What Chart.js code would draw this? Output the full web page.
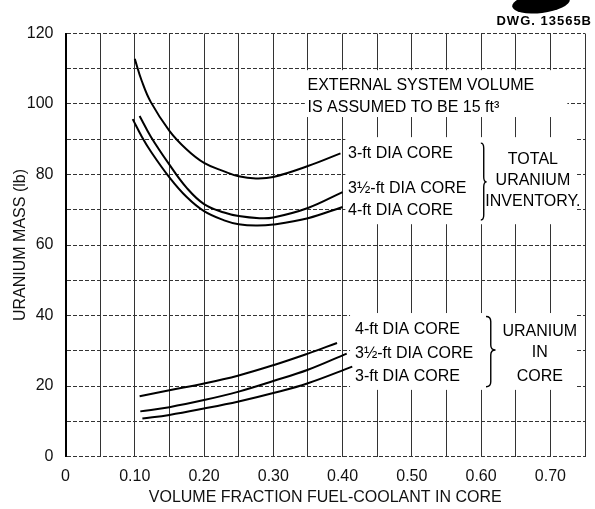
<!DOCTYPE html>
<html>
<head>
<meta charset="utf-8">
<script src="https://cdn.jsdelivr.net/npm/chart.js@4.4.0/dist/chart.umd.min.js"></script>
<style>
  html, body { margin: 0; padding: 0; background: #fff; }
  #wrap { width: 595px; height: 509px; position: relative; }
  canvas { display: block; }
</style>
</head>
<body>
<div id="wrap"><canvas id="chart" width="595" height="509"></canvas></div>
<script>
// Axis ticks (labelled every 0.10 / 20 lb, grid every 0.05 / 10 lb)
const xTickValues = [0, 0.10, 0.20, 0.30, 0.40, 0.50, 0.60, 0.70];
const xTickLabels = ['0', '0.10', '0.20', '0.30', '0.40', '0.50', '0.60', '0.70'];
const yTickValues = [0, 20, 40, 60, 80, 100, 120];
const yTickLabels = ['0', '20', '40', '60', '80', '100', '120'];

// Total uranium inventory (lb) vs volume fraction fuel-coolant in core
const total3ftX  = [0.100, 0.110, 0.123, 0.150, 0.175, 0.200, 0.229, 0.250, 0.275, 0.300, 0.350, 0.397];
const total3ftY  = [112.8, 106.6, 100.6, 92.4, 87.1, 83.3, 80.9, 79.5, 78.9, 79.3, 82.4, 86.0];
const total35ftX = [0.107, 0.123, 0.150, 0.175, 0.200, 0.229, 0.250, 0.280, 0.300, 0.350, 0.400];
const total35ftY = [96.6, 90.8, 82.8, 76.2, 71.6, 69.2, 68.2, 67.6, 67.8, 70.5, 75.0];
const total4ftX  = [0.097, 0.110, 0.123, 0.150, 0.175, 0.200, 0.229, 0.250, 0.275, 0.300, 0.350, 0.400];
const total4ftY  = [95.7, 90.8, 86.6, 79.2, 73.6, 69.6, 67.0, 65.9, 65.5, 65.8, 67.6, 70.8];

// Uranium in core (lb)
const core4ftX  = [0.107, 0.150, 0.200, 0.250, 0.300, 0.350, 0.392];
const core4ftY  = [17.1, 18.8, 20.7, 23.0, 25.9, 29.2, 32.2];
const core35ftX = [0.108, 0.150, 0.200, 0.250, 0.300, 0.350, 0.406];
const core35ftY = [12.8, 14.0, 16.0, 18.4, 21.4, 24.6, 29.2];
const core3ftX  = [0.111, 0.150, 0.200, 0.250, 0.300, 0.350, 0.414];
const core3ftY  = [10.8, 11.8, 13.6, 15.6, 18.0, 20.8, 25.5];

const FONT = "'Liberation Sans', Arial, sans-serif";

function pts(xs, ys) { return xs.map((v, i) => ({ x: v, y: ys[i] })); }
function curve(label, xs, ys) {
  return {
    label, data: pts(xs, ys),
    borderColor: '#000', borderWidth: 2, pointRadius: 0,
    fill: false, tension: 0.4
  };
}

// Draws a right-facing curly brace between y1 and y2 with its tip at (x + w, ym)
function brace(ctx, x, y1, y2, ym, w) {
  const mid = x + w / 2, r = Math.min(5, (y2 - y1) / 6);
  ctx.beginPath();
  ctx.moveTo(x, y1);
  ctx.quadraticCurveTo(mid, y1, mid, y1 + r);
  ctx.lineTo(mid, ym - r);
  ctx.quadraticCurveTo(mid, ym, x + w, ym);
  ctx.quadraticCurveTo(mid, ym, mid, ym + r);
  ctx.lineTo(mid, y2 - r);
  ctx.quadraticCurveTo(mid, y2, x, y2);
  ctx.stroke();
}

const annotations = {
  id: 'annotations',
  beforeDatasetsDraw(chart) {
    // clear the grid behind the lettered notes
    const { ctx, scales: { x, y } } = chart;
    const boxes = [
      [0.3455, 0.7245, 109.6, 96.3],
      [0.4040, 0.7372, 90.6, 65.9],
      [0.4108, 0.7372, 40.7, 18.9]
    ];
    ctx.save();
    ctx.fillStyle = '#fff';
    for (const [x1, x2, y1, y2] of boxes) {
      const px1 = x.getPixelForValue(x1), px2 = x.getPixelForValue(x2);
      const py1 = y.getPixelForValue(y1), py2 = y.getPixelForValue(y2);
      ctx.fillRect(px1, py1, px2 - px1, py2 - py1);
    }
    ctx.restore();
  },
  afterDatasetsDraw(chart) {
    const { ctx, scales: { x, y } } = chart;
    const X = v => x.getPixelForValue(v), Y = v => y.getPixelForValue(v);
    ctx.save();
    ctx.fillStyle = '#000';
    ctx.strokeStyle = '#000';
    ctx.font = '16px ' + FONT;
    ctx.textBaseline = 'middle';

    ctx.textAlign = 'left';
    ctx.fillText('EXTERNAL SYSTEM VOLUME', X(0.3494), Y(105.1));
    ctx.fillText('IS ASSUMED TO BE 15 ft³', X(0.3494), Y(99.1));

    ctx.fillText('3-ft DIA CORE', X(0.408), Y(85.8));
    ctx.fillText('3½-ft DIA CORE', X(0.408), Y(75.9));
    ctx.fillText('4-ft DIA CORE', X(0.408), Y(69.9));

    ctx.fillText('4-ft DIA CORE', X(0.418), Y(35.9));
    ctx.fillText('3½-ft DIA CORE', X(0.418), Y(29.3));
    ctx.fillText('3-ft DIA CORE', X(0.418), Y(22.8));

    ctx.textAlign = 'center';
    ctx.fillText('TOTAL', X(0.6748), Y(84.1));
    ctx.fillText('URANIUM', X(0.6748), Y(78.2));
    ctx.fillText('INVENTORY.', X(0.6748), Y(72.3));

    ctx.fillText('URANIUM', X(0.6847), Y(35.4));
    ctx.fillText('IN', X(0.6847), Y(29.4));
    ctx.fillText('CORE', X(0.6847), Y(22.8));

    ctx.lineWidth = 1.4;
    brace(ctx, X(0.5996), Y(88.9), Y(67.1), Y(77.9), X(0.608) - X(0.5996));
    brace(ctx, X(0.6071), Y(39.7), Y(19.8), Y(30.2), X(0.6208) - X(0.6071));
    ctx.restore();
  },
  afterDraw(chart) {
    const { ctx } = chart;
    ctx.save();
    // stamp mark beside the drawing number
    ctx.fillStyle = '#000';
    ctx.beginPath();
    ctx.ellipse(541, 3, 29, 10, -0.12, 0, Math.PI * 2);
    ctx.fill();
    ctx.font = 'bold 13px ' + FONT;
    ctx.textAlign = 'right';
    ctx.textBaseline = 'middle';
    if ('letterSpacing' in ctx) ctx.letterSpacing = '1px';
    ctx.fillText('DWG. 13565B', 592, 21);
    ctx.restore();
  }
};

new Chart(document.getElementById('chart'), {
  type: 'line',
  data: {
    datasets: [
      curve('3-ft DIA CORE (total)', total3ftX, total3ftY),
      curve('3½-ft DIA CORE (total)', total35ftX, total35ftY),
      curve('4-ft DIA CORE (total)', total4ftX, total4ftY),
      curve('4-ft DIA CORE (core)', core4ftX, core4ftY),
      curve('3½-ft DIA CORE (core)', core35ftX, core35ftY),
      curve('3-ft DIA CORE (core)', core3ftX, core3ftY)
    ]
  },
  options: {
    responsive: false,
    animation: false,
    devicePixelRatio: 1,
    layout: { padding: { top: 33.5, right: 1, left: 0, bottom: 0 } },
    plugins: { legend: { display: false }, tooltip: { enabled: false } },
    scales: {
      x: {
        type: 'linear', min: 0, max: 0.75,
        afterFit(scale) { scale.height = 52.5; },
        ticks: {
          stepSize: 0.05, autoSkip: false, maxRotation: 0, padding: 10,
          color: '#111', font: { family: FONT, size: 16 },
          callback(value) {
            const i = xTickValues.findIndex(v => Math.abs(v - value) < 1e-6);
            return i >= 0 ? xTickLabels[i] : '';
          }
        },
        grid: { color: '#333', lineWidth: 1, drawTicks: false },
        border: { display: false },
        title: {
          display: true, text: 'VOLUME FRACTION FUEL-COOLANT IN CORE',
          color: '#111', font: { family: FONT, size: 16 },
          padding: { top: 0, bottom: 1.4 }
        }
      },
      y: {
        type: 'linear', min: 0, max: 120,
        afterFit(scale) { scale.width = 65.5; },
        ticks: {
          stepSize: 10, autoSkip: false, padding: 12,
          color: '#111', font: { family: FONT, size: 16 },
          callback(value) {
            const i = yTickValues.indexOf(Math.round(value));
            return i >= 0 ? yTickLabels[i] : '';
          }
        },
        grid: { color: '#333', lineWidth: 1, drawTicks: false },
        border: { display: true, color: '#000', width: 2, dash: [4, 2] },
        title: {
          display: true, text: 'URANIUM MASS (lb)',
          color: '#111', font: { family: FONT, size: 16 },
          padding: { top: 11, bottom: 0 }
        }
      }
    }
  },
  plugins: [annotations]
});
</script>
</body>
</html>
